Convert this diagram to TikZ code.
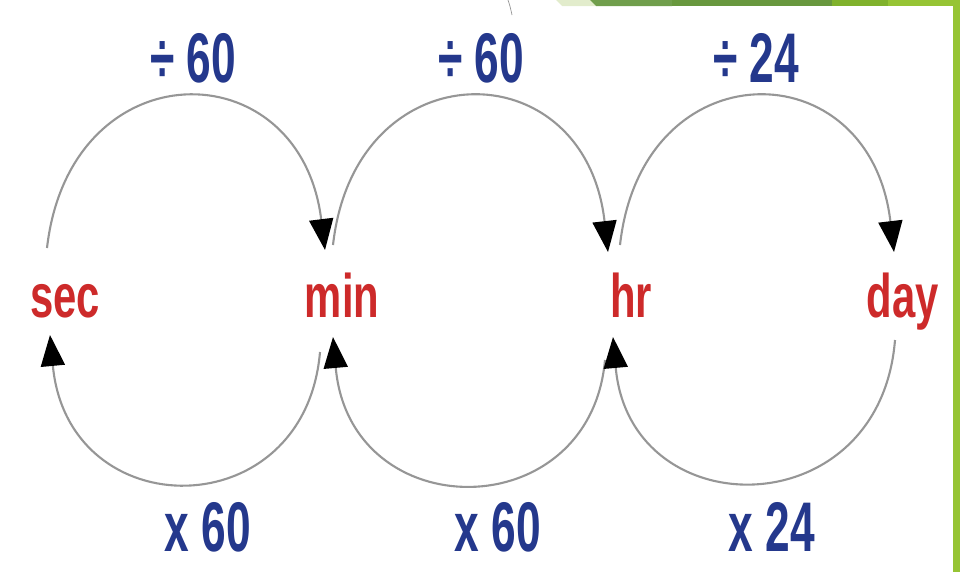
\documentclass[tikz,border=0pt]{standalone}
\usepackage{fontspec}
\usepackage{tikz}
\usetikzlibrary{arrows.meta,positioning,calc}
\newfontfamily\unitfont[FakeStretch=0.68]{Liberation Sans Bold}
\newfontfamily\opfont[FakeStretch=0.63]{Liberation Sans Bold}
\definecolor{unitred}{RGB}{205,42,42}
\definecolor{opblue}{RGB}{36,56,140}
\definecolor{arcgray}{RGB}{150,150,150}
\definecolor{barpale}{RGB}{226,236,204}
\definecolor{bardark}{RGB}{112,158,76}
\definecolor{bardeep}{RGB}{104,152,62}
\definecolor{barmid}{RGB}{128,178,44}
\definecolor{barlight}{RGB}{150,196,52}

\begin{document}
\begin{tikzpicture}[x=0.02cm, y=-0.02cm,
    unit/.style={anchor=base, inner sep=0pt, text=unitred, font=\unitfont\fontsize{35}{40}\selectfont},
    oplabel/.style={anchor=base, inner sep=0pt, text=opblue, font=\opfont\fontsize{40}{46}\selectfont},
    conv/.style={draw=arcgray, line width=1.2pt, -{Triangle[length=0.62cm, width=0.48cm, black]}}]
    \useasboundingbox (0,0) rectangle (960,572);
    % Slide decoration
    \fill[barpale] (556,0) -- (592,0) -- (596,6) -- (562,6) -- cycle;
    \fill[bardark] (590,0) -- (672,0) -- (672,6) -- (596,6) -- cycle;
    \fill[bardeep] (672,0) rectangle (832,6);
    \fill[barmid] (832,0) rectangle (888,6);
    \fill[barlight] (888,0) rectangle (960,6);
    \fill[barlight] (953,0) rectangle (960,572);
    \draw[arcgray, line width=0.4pt] (508,0) .. controls (510,6) .. (512,15);
    % Units
    \node[unit] (sec) at (65,317) {sec};
    \node[unit] (min) at (342,317) {min};
    \node[unit] (hr) at (631,317) {hr};
    \node[unit] (day) at (903,317) {day};
    % Division labels
    \node[oplabel] (div1) at (193,82) {÷ 60};
    \node[oplabel] (div2) at (481,82) {÷ 60};
    \node[oplabel] (div3) at (756,82) {÷ 24};
    % Multiplication labels
    \node[oplabel] (mul1) at (208,551) {x 60};
    \node[oplabel] (mul2) at (498,551) {x 60};
    \node[oplabel] (mul3) at (772,551) {x 24};
    % Upper arcs
    \draw[conv] ($(sec.base)+(-18,-69)$) .. controls +(23,-200) and +(-25,-202) .. ($(min.base)+(-17,-67)$);
    \draw[conv] ($(min.base)+(-9,-72)$) .. controls +(22,-197) and +(-23,-204) .. ($(hr.base)+(-23,-65)$);
    \draw[conv] ($(hr.base)+(-11,-72)$) .. controls +(22,-197) and +(-24,-204) .. ($(day.base)+(-9,-65)$);
    % Lower arcs
    \draw[conv] ($(min.base)+(-22,35)$) .. controls +(-15,176) and +(18,193) .. ($(sec.base)+(-15,18)$);
    \draw[conv] ($(hr.base)+(-26,43)$) .. controls +(-15,168) and +(17,191) .. ($(min.base)+(-9,20)$);
    \draw[conv] ($(day.base)+(-8,23)$) .. controls +(-15,188) and +(17,191) .. ($(hr.base)+(-18,20)$);
\end{tikzpicture}
\end{document}
